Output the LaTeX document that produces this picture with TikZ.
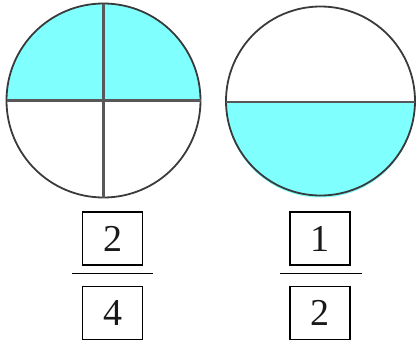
\documentclass[tikz,border=0pt]{standalone}
\usepackage{fontspec}
\setmainfont{Liberation Serif}
\definecolor{fillc}{HTML}{80FFFF}
\definecolor{linec}{HTML}{3A3A3A}
\begin{document}
\begin{tikzpicture}[x=1pt,y=-1pt,
  rim/.style={draw=linec,line width=1.8pt},
  divline/.style={draw=linec!85!white,line width=2.2pt},
  numbox/.style={draw=black,line width=1.3pt,minimum width=60pt,minimum height=53pt,inner sep=0pt,font=\fontsize{38}{40}\selectfont,text=black!90},
  barline/.style={draw=black,line width=1.5pt}]
\useasboundingbox (0,0) rectangle (416,341);
% left circle
\coordinate (lc) at (103.5,100.5);
\fill[fillc] (6.5,100.5) arc[start angle=180,end angle=360,radius=97] -- cycle;
\draw[rim] (lc) circle[radius=97];
\coordinate (lt) at (103.5,3.5);
\coordinate (lb) at (103.5,197.5);
\coordinate (ll) at (6.5,100.5);
\coordinate (lr) at (200.5,100.5);
\draw[divline] (lt) -- (lb);
\draw[divline] (ll) -- (lr);
% right circle
\coordinate (rc) at (320.5,101);
\fill[fillc] (226,103) -- (415,103) arc[start angle=0,end angle=180,radius=94.5] -- cycle;
\draw[rim] (rc) circle[radius=94.5];
\coordinate (rl) at (226,102);
\coordinate (rr) at (415,102);
\draw[divline] (rl) -- (rr);
% fractions
\node[numbox] (n1) at (112.7,238.5) {2};
\node[numbox] (d1) at (112.7,312.7) {4};
\coordinate (b1l) at (72.3,273.3);
\coordinate (b1r) at (153.3,273.3);
\draw[barline] (b1l) -- (b1r);
\node[numbox] (n2) at (320,238.5) {1};
\node[numbox] (d2) at (320,312.7) {2};
\coordinate (b2l) at (280,273.3);
\coordinate (b2r) at (361.7,273.3);
\draw[barline] (b2l) -- (b2r);
\end{tikzpicture}
\end{document}
